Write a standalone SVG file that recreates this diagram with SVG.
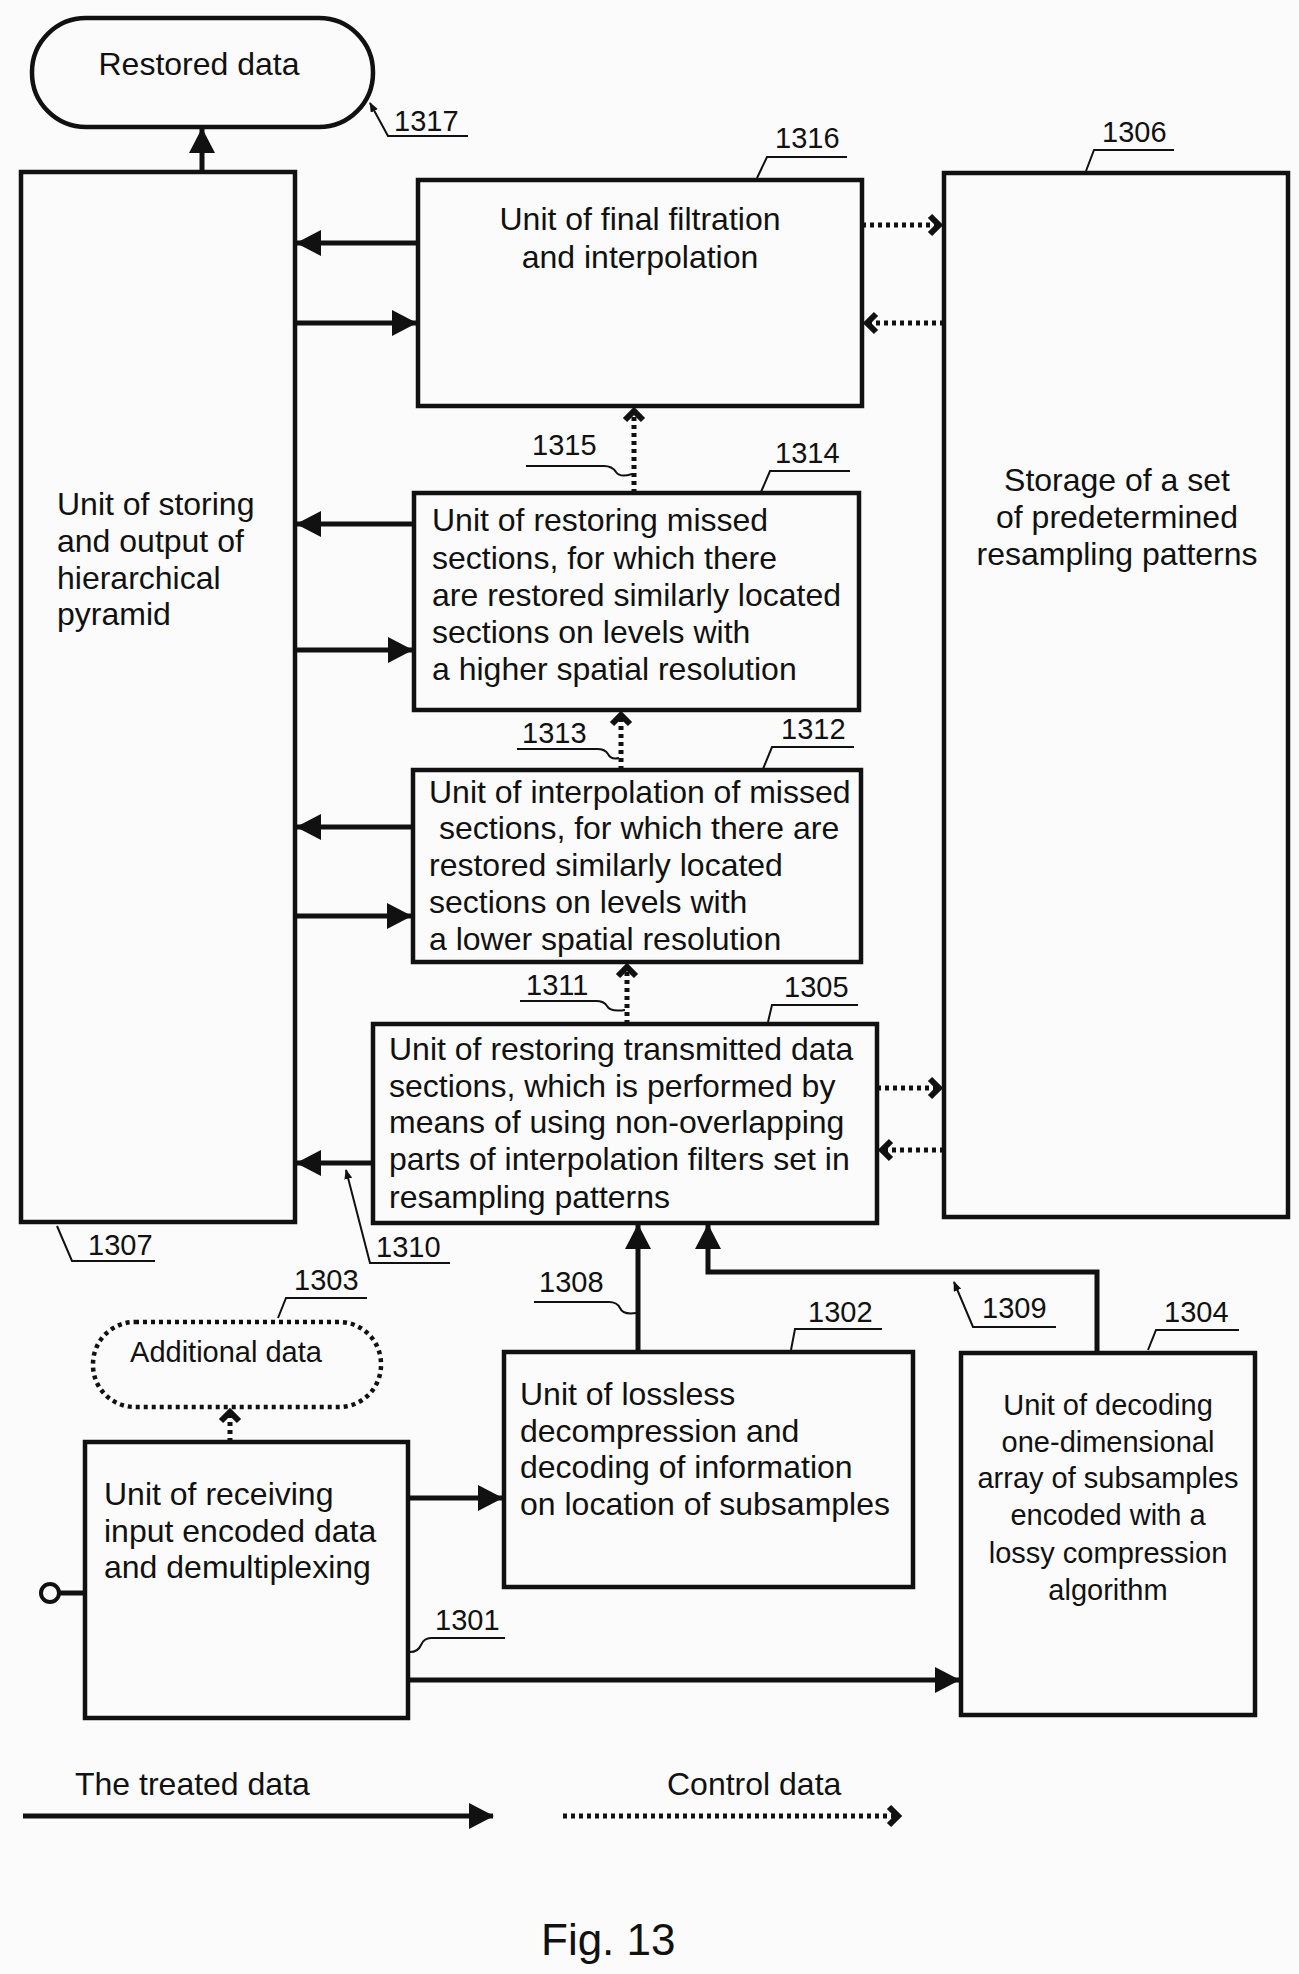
<svg xmlns="http://www.w3.org/2000/svg" width="1299" height="1974" viewBox="0 0 1299 1974">
<defs>
<style>
.bx{fill:none;stroke:#111;stroke-width:4.5}
.t{font-family:"Liberation Sans",Arial,sans-serif;font-size:32px;fill:#111}
.tc{font-family:"Liberation Sans",Arial,sans-serif;font-size:32px;fill:#111;text-anchor:middle}
.ts{font-family:"Liberation Sans",Arial,sans-serif;font-size:29px;fill:#111;text-anchor:middle}
.n{font-family:"Liberation Sans",Arial,sans-serif;font-size:29px;fill:#111}
.f{font-family:"Liberation Sans",Arial,sans-serif;font-size:44px;fill:#111}
.s{fill:none;stroke:#111;stroke-width:5}
.d{fill:none;stroke:#111;stroke-width:5;stroke-dasharray:4 4}
.l{fill:none;stroke:#111;stroke-width:2}
</style>
<marker id="ah" markerUnits="userSpaceOnUse" markerWidth="26" markerHeight="28" refX="24" refY="13" orient="auto"><path d="M0,0 L25,13 L0,26 z" fill="#111"/></marker>
<marker id="ch" markerUnits="userSpaceOnUse" markerWidth="18" markerHeight="26" refX="13" refY="12" orient="auto"><path d="M3,3 L12,12 L3,21" fill="none" stroke="#111" stroke-width="6"/></marker>
<marker id="sa" markerUnits="userSpaceOnUse" markerWidth="10" markerHeight="8" refX="9" refY="4" orient="auto"><path d="M0,0 L10,4 L0,8 z" fill="#111"/></marker>
</defs>
<rect x="0" y="0" width="1299" height="1974" fill="#fbfbfb"/>

<g id="n1317">
<rect x="32" y="18" width="341" height="109" rx="54" class="bx"/>
<text x="199" y="75" class="tc">Restored data</text>
</g>
<g id="n1307">
<rect x="21" y="172" width="274" height="1050" class="bx"/>
<text x="57" y="515" class="t">Unit of storing</text>
<text x="57" y="552" class="t">and output of</text>
<text x="57" y="589" class="t">hierarchical</text>
<text x="57" y="625" class="t">pyramid</text>
</g>
<g id="n1316">
<rect x="418" y="180" width="444" height="226" class="bx"/>
<text x="640" y="230" class="tc">Unit of final filtration</text>
<text x="640" y="268" class="tc">and interpolation</text>
</g>
<g id="n1306">
<rect x="944" y="173" width="344" height="1044" class="bx"/>
<text x="1117" y="491" class="tc">Storage of a set</text>
<text x="1117" y="528" class="tc">of predetermined</text>
<text x="1117" y="565" class="tc">resampling patterns</text>
</g>
<g id="n1314">
<rect x="414" y="493" width="445" height="217" class="bx"/>
<text x="432" y="531" class="t">Unit of restoring missed</text>
<text x="432" y="569" class="t">sections, for which there</text>
<text x="432" y="606" class="t">are restored similarly located</text>
<text x="432" y="643" class="t">sections on levels with</text>
<text x="432" y="680" class="t">a higher spatial resolution</text>
</g>
<g id="n1312">
<rect x="413" y="770" width="448" height="192" class="bx"/>
<text x="429" y="803" class="t">Unit of interpolation of missed</text>
<text x="439" y="839" class="t">sections, for which there are</text>
<text x="429" y="876" class="t">restored similarly located</text>
<text x="429" y="913" class="t">sections on levels with</text>
<text x="429" y="950" class="t">a lower spatial resolution</text>
</g>
<g id="n1305">
<rect x="373" y="1024" width="504" height="199" class="bx"/>
<text x="389" y="1060" class="t">Unit of restoring transmitted data</text>
<text x="389" y="1097" class="t">sections, which is performed by</text>
<text x="389" y="1133" class="t">means of using non-overlapping</text>
<text x="389" y="1170" class="t">parts of interpolation filters set in</text>
<text x="389" y="1208" class="t">resampling patterns</text>
</g>
<g id="n1303">
<rect x="93" y="1322" width="288" height="85" rx="42" class="bx" stroke-dasharray="4 4"/>
<text x="226" y="1362" class="ts">Additional data</text>
</g>
<g id="n1301">
<rect x="85" y="1442" width="323" height="276" class="bx"/>
<text x="104" y="1505" class="t">Unit of receiving</text>
<text x="104" y="1542" class="t">input encoded data</text>
<text x="104" y="1578" class="t">and demultiplexing</text>
</g>
<g id="n1302">
<rect x="504" y="1352" width="409" height="235" class="bx"/>
<text x="520" y="1405" class="t">Unit of lossless</text>
<text x="520" y="1442" class="t">decompression and</text>
<text x="520" y="1478" class="t">decoding of information</text>
<text x="520" y="1515" class="t">on location of subsamples</text>
</g>
<g id="n1304">
<rect x="961" y="1353" width="294" height="362" class="bx"/>
<text x="1108" y="1415" class="ts">Unit of decoding</text>
<text x="1108" y="1452" class="ts">one-dimensional</text>
<text x="1108" y="1488" class="ts">array of subsamples</text>
<text x="1108" y="1525" class="ts">encoded with a</text>
<text x="1108" y="1563" class="ts">lossy compression</text>
<text x="1108" y="1600" class="ts">algorithm</text>
</g>

<g id="connectors">
<path d="M202,172 L202,129" class="s" marker-end="url(#ah)"/>
<path d="M418,243 L297,243" class="s" marker-end="url(#ah)"/>
<path d="M295,323 L416,323" class="s" marker-end="url(#ah)"/>
<path d="M862,225 L940,225" class="d" marker-end="url(#ch)"/>
<path d="M944,323 L866,323" class="d" marker-end="url(#ch)"/>
<path d="M634,493 L634,410" class="d" marker-end="url(#ch)"/>
<path d="M414,524 L297,524" class="s" marker-end="url(#ah)"/>
<path d="M295,650 L412,650" class="s" marker-end="url(#ah)"/>
<path d="M621,770 L621,714" class="d" marker-end="url(#ch)"/>
<path d="M413,827 L297,827" class="s" marker-end="url(#ah)"/>
<path d="M295,916 L411,916" class="s" marker-end="url(#ah)"/>
<path d="M627,1024 L627,966" class="d" marker-end="url(#ch)"/>
<path d="M877,1088 L940,1088" class="d" marker-end="url(#ch)"/>
<path d="M944,1150 L881,1150" class="d" marker-end="url(#ch)"/>
<path d="M373,1163 L297,1163" class="s" marker-end="url(#ah)"/>
<path d="M638,1352 L638,1225" class="s" marker-end="url(#ah)"/>
<path d="M1097,1353 L1097,1272 L708,1272 L708,1225" class="s" marker-end="url(#ah)"/>
<path d="M408,1498 L502,1498" class="s" marker-end="url(#ah)"/>
<path d="M408,1680 L959,1680" class="s" marker-end="url(#ah)"/>
<path d="M230,1442 L230,1411" class="d" marker-end="url(#ch)"/>
<circle cx="50" cy="1593" r="9" fill="none" stroke="#111" stroke-width="4"/>
<path d="M59,1593 L85,1593" class="s"/>
</g>

<g id="labels">
<text x="394" y="131" class="n">1317</text>
<path d="M468,136 L388,136 L370,103" class="l" marker-end="url(#sa)"/>
<text x="775" y="148" class="n">1316</text>
<path d="M847,157 L767,157 L757,178" class="l"/>
<text x="1102" y="142" class="n">1306</text>
<path d="M1174,150 L1094,150 L1086,171" class="l"/>
<text x="532" y="455" class="n">1315</text>
<path d="M526,466 L604,466 Q612,466 616,472 Q620,478 632,474" class="l"/>
<text x="775" y="463" class="n">1314</text>
<path d="M850,471 L770,471 L761,492" class="l"/>
<text x="522" y="743" class="n">1313</text>
<path d="M517,749 L597,749 Q605,749 608,754 Q611,760 619,758" class="l"/>
<text x="781" y="739" class="n">1312</text>
<path d="M854,747 L772,747 L763,769" class="l"/>
<text x="526" y="995" class="n">1311</text>
<path d="M520,1001 L596,1001 Q604,1001 607,1006 Q610,1012 625,1010" class="l"/>
<text x="784" y="997" class="n">1305</text>
<path d="M858,1005 L772,1005 L768,1022" class="l"/>
<text x="376" y="1257" class="n">1310</text>
<path d="M450,1263 L370,1263 L346,1170" class="l" marker-end="url(#sa)"/>
<text x="88" y="1255" class="n">1307</text>
<path d="M155,1261 L72,1261 L57,1226" class="l"/>
<text x="294" y="1290" class="n">1303</text>
<path d="M367,1298 L286,1298 L278,1318" class="l"/>
<text x="539" y="1292" class="n">1308</text>
<path d="M534,1302 L609,1302 Q617,1302 620,1308 Q623,1315 636,1313" class="l"/>
<text x="808" y="1322" class="n">1302</text>
<path d="M882,1329 L795,1329 L791,1350" class="l"/>
<text x="982" y="1318" class="n">1309</text>
<path d="M1056,1327 L973,1327 L954,1282" class="l" marker-end="url(#sa)"/>
<text x="1164" y="1322" class="n">1304</text>
<path d="M1239,1330 L1156,1330 L1148,1350" class="l"/>
<text x="435" y="1630" class="n">1301</text>
<path d="M505,1638 L431,1638 Q424,1638 421,1645 Q418,1652 410,1652" class="l"/>
</g>

<g id="legend">
<text x="75" y="1795" class="t">The treated data</text>
<path d="M23,1816 L493,1816" class="s" marker-end="url(#ah)"/>
<text x="667" y="1795" class="t">Control data</text>
<path d="M563,1816 L899,1816" class="d" marker-end="url(#ch)"/>
<text x="541" y="1955" class="f">Fig. 13</text>
</g>
</svg>
